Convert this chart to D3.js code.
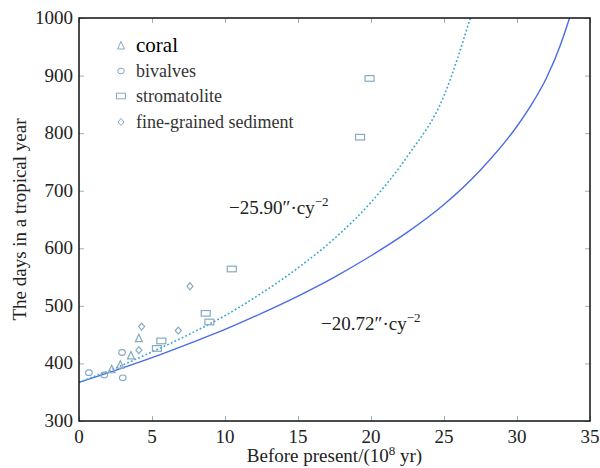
<!DOCTYPE html>
<html>
<head>
<meta charset="utf-8">
<script src="https://cdn.jsdelivr.net/npm/d3@7"></script>
<style>
  body { margin: 0; background: #fff; }
  #chart text { font-family: "Liberation Serif", Tinos, "DejaVu Serif", "Noto Serif", FreeSerif, Times, serif; }
</style>
</head>
<body>
<svg id="chart" width="600" height="468"></svg>
<script>
// data
const coral = [[2.24, 389], [2.83, 397], [3.56, 413], [4.1, 443]];
const bivalves = [[0.68, 384], [1.73, 380], [2.95, 419], [3.0, 375]];
const stromatolite = [[5.34, 426], [5.64, 439], [8.68, 487], [8.93, 472], [10.46, 564], [19.25, 793], [19.9, 895]];
const sediment = [[4.1, 423], [4.29, 464], [6.8, 457], [7.6, 534]];

// model curves (read at several points)
const curveA_t = [0, 2.5, 5, 7.5, 10, 12.5, 15, 17.5, 20, 22.5, 25, 26.8];
const curveA_v = [367, 392, 420, 450, 483, 522, 566, 617, 680, 760, 865, 1000];
const curveB_t = [0, 2.5, 5, 7.5, 10, 12.5, 15, 17.5, 20, 22.5, 25, 27.5, 30, 31, 32, 33, 33.6];
const curveB_v = [367, 388, 410, 434, 459, 487, 517, 550, 587, 628, 676, 736, 812, 850, 895, 955, 1000];

const xTicks = [0, 5, 10, 15, 20, 25, 30, 35];
const yTicks = [300, 400, 500, 600, 700, 800, 900, 1000];

const margin = { top: 18, right: 10, bottom: 47, left: 79 };
const width = 600, height = 468;

const svg = d3.select('#chart');

const x = d3.scaleLinear().domain([0, 35]).range([margin.left, width - margin.right]);
const y = d3.scaleLinear().domain([300, 1000]).range([height - margin.bottom, margin.top]);

const markColor = '#86aac0';
const tickColor = '#8fb4c8';
const textColor = '#222';

// ticks (inward, all four sides)
function ticks(axis, tx, ty) {
  svg.append('g')
    .attr('transform', `translate(${tx}, ${ty})`)
    .call(axis.tickSize(-5).tickFormat(''))
    .call(g => g.select('.domain').remove())
    .call(g => g.selectAll('line').attr('stroke', tickColor));
}
ticks(d3.axisBottom(x).tickValues(xTicks), 0, y(300));
ticks(d3.axisTop(x).tickValues(xTicks), 0, y(1000));
ticks(d3.axisLeft(y).tickValues(yTicks), x(0), 0);
ticks(d3.axisRight(y).tickValues(yTicks), x(35), 0);

// tick labels
svg.append('g').selectAll('text')
  .data(xTicks)
  .enter()
  .append('text')
  .attr('x', d => x(d))
  .attr('y', 443)
  .attr('text-anchor', 'middle')
  .attr('fill', textColor)
  .style('font-size', '19px')
  .text(d => d);
svg.append('g').selectAll('text')
  .data(yTicks)
  .enter()
  .append('text')
  .attr('x', 73)
  .attr('y', d => y(d) + 6)
  .attr('text-anchor', 'end')
  .attr('fill', textColor)
  .style('font-size', '19px')
  .text(d => d);

// curves
svg.append('clipPath').attr('id', 'clip')
  .append('rect')
  .attr('x', x(0)).attr('y', y(1000))
  .attr('width', x(35) - x(0)).attr('height', y(300) - y(1000));

const line = d3.line()
  .x(d => x(d[0]))
  .y(d => y(d[1]))
  .curve(d3.curveMonotoneX);

svg.append('path')
  .datum(curveB_t.map((t, i) => [t, curveB_v[i]]))
  .attr('clip-path', 'url(#clip)')
  .attr('fill', 'none')
  .attr('stroke', '#4a6be6')
  .attr('stroke-width', 1.4)
  .attr('d', line);

svg.append('path')
  .datum(curveA_t.map((t, i) => [t, curveA_v[i]]))
  .attr('clip-path', 'url(#clip)')
  .attr('fill', 'none')
  .attr('stroke', '#3aa6cf')
  .attr('stroke-width', 1.6)
  .attr('stroke-dasharray', '1.8,2.2')
  .attr('d', line);

// markers
const marks = svg.append('g')
  .attr('fill', 'none')
  .attr('stroke', markColor)
  .attr('stroke-width', 1.2);

function drawTriangle(g, cx, cy) {
  g.append('path').attr('d', `M${cx},${cy - 4.5}L${cx + 3.5},${cy + 3}L${cx - 3.5},${cy + 3}Z`);
}
function drawCircle(g, cx, cy) {
  g.append('ellipse').attr('cx', cx).attr('cy', cy).attr('rx', 3.3).attr('ry', 2.8);
}
function drawRect(g, cx, cy) {
  g.append('rect').attr('x', cx - 4.5).attr('y', cy - 2.8).attr('width', 9).attr('height', 5.6);
}
function drawDiamond(g, cx, cy) {
  g.append('path').attr('d', `M${cx},${cy - 3.5}L${cx + 3},${cy}L${cx},${cy + 3.5}L${cx - 3},${cy}Z`);
}

coral.forEach(d => drawTriangle(marks, x(d[0]), y(d[1])));
bivalves.forEach(d => drawCircle(marks, x(d[0]), y(d[1])));
stromatolite.forEach(d => drawRect(marks, x(d[0]), y(d[1])));
sediment.forEach(d => drawDiamond(marks, x(d[0]), y(d[1])));

// frame
svg.append('rect')
  .attr('x', x(0))
  .attr('y', y(1000))
  .attr('width', x(35) - x(0))
  .attr('height', y(300) - y(1000))
  .attr('fill', 'none')
  .attr('stroke', '#111')
  .attr('stroke-width', 1.5);

// legend
const legendNames = ['coral', 'bivalves', 'stromatolite', 'fine-grained sediment'];
const legendDraw = [drawTriangle, drawCircle, drawRect, drawDiamond];
const legendY = [47, 72, 97, 123];
legendNames.forEach((name, i) => {
  const g = svg.append('g').attr('fill', 'none').attr('stroke', markColor).attr('stroke-width', 1);
  legendDraw[i](g, 121, legendY[i] - 1);
  svg.append('text')
    .attr('x', 136)
    .attr('y', legendY[i] + 5)
    .attr('fill', i === 0 ? '#000' : '#333')
    .style('font-size', i === 0 ? '21px' : '18px')
    .text(name);
});

// annotations
function annotate(xp, yp, label) {
  const t = svg.append('text')
    .attr('x', xp)
    .attr('y', yp)
    .attr('fill', textColor)
    .style('font-size', '19px');
  t.append('tspan').text(label + '\u2033\u00b7cy');
  t.append('tspan').attr('dy', -8).style('font-size', '13px').text('\u22122');
}
annotate(229, 214, '\u221225.90');
annotate(321, 330, '\u221220.72');

// axis titles
const xTitle = svg.append('text')
  .attr('x', (x(0) + x(35)) / 2)
  .attr('y', 462)
  .attr('text-anchor', 'middle')
  .attr('fill', textColor)
  .style('font-size', '19px');
xTitle.append('tspan').text('Before present/(10');
xTitle.append('tspan').attr('dy', -7).style('font-size', '13px').text('8');
xTitle.append('tspan').attr('dy', 7).text(' yr)');

svg.append('text')
  .attr('transform', `translate(26, ${(y(300) + y(1000)) / 2}) rotate(-90)`)
  .attr('text-anchor', 'middle')
  .attr('fill', textColor)
  .style('font-size', '19px')
  .text('The days in a tropical year');
</script>
</body>
</html>
